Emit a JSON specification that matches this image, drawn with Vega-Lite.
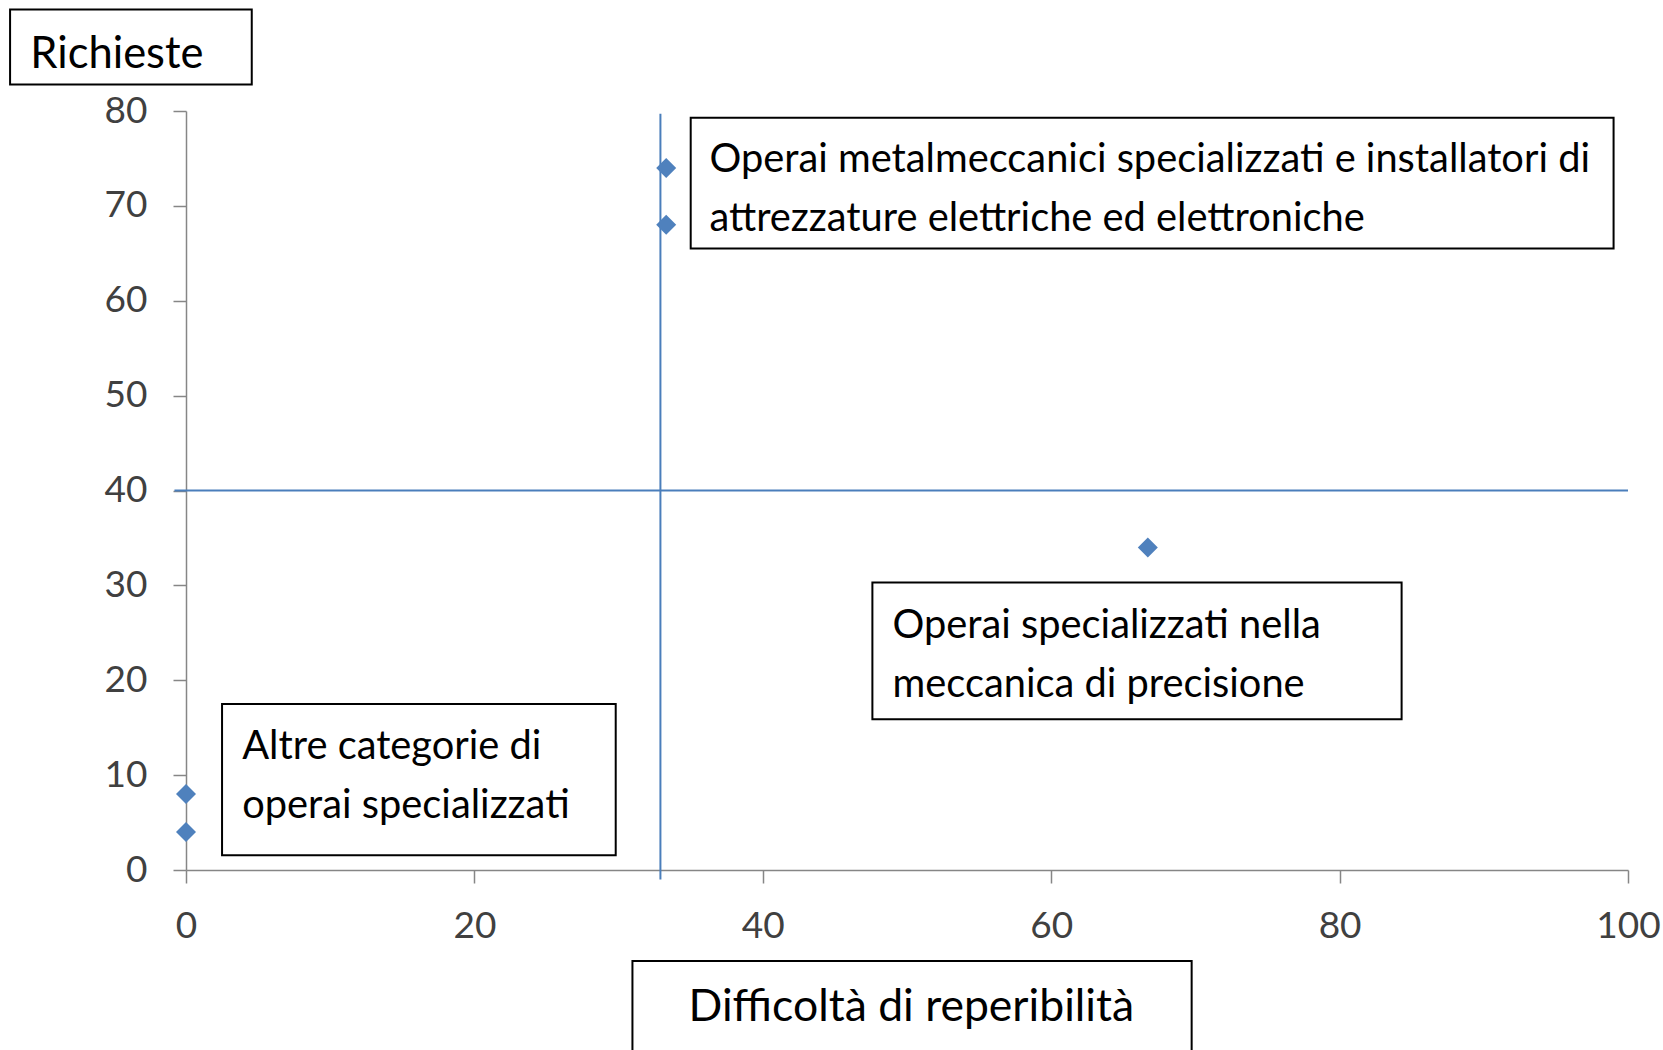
{
  "$schema": "https://vega.github.io/schema/vega-lite/v6.json",
  "width": 1442,
  "height": 759,
  "autosize": {"type": "none"},
  "padding": {"left": 186, "top": 111, "right": 35, "bottom": 180},
  "background": "white",
  "config": {"view": {"stroke": null}, "font": "Lato"},
  "datasets": {
    "points": [
      {"difficolta": 0, "richieste": 8},
      {"difficolta": 0, "richieste": 4},
      {"difficolta": 33.3, "richieste": 74},
      {"difficolta": 33.3, "richieste": 68},
      {"difficolta": 66.7, "richieste": 34}
    ],
    "vlines": [{"x": 32.9, "y1": -1, "y2": 79.7}],
    "hlines": [{"y": 40, "x1": -0.8, "x2": 100}],
    "boxes": [
      {"x1": -12.2, "x2": 4.56, "y1": 82.8, "y2": 90.7},
      {"x1": 35.0, "x2": 99.0, "y1": 65.5, "y2": 79.3},
      {"x1": 47.6, "x2": 84.3, "y1": 15.9, "y2": 30.3},
      {"x1": 2.5, "x2": 29.8, "y1": 1.56, "y2": 17.5},
      {"x1": 30.96, "x2": 69.74, "y1": -25, "y2": -9.6}
    ],
    "labels": [
      {"x": 36.3, "y": 74.8, "label": "Operai metalmeccanici specializzati e installatori di"},
      {"x": 36.3, "y": 68.6, "label": "attrezzature elettriche ed elettroniche"},
      {"x": 49.0, "y": 25.7, "label": "Operai specializzati nella"},
      {"x": 49.0, "y": 19.45, "label": "meccanica di precisione"},
      {"x": 3.9, "y": 12.95, "label": "Altre categorie di"},
      {"x": 3.9, "y": 6.7, "label": "operai specializzati"}
    ],
    "ytitle": [
      {"x": -10.8, "y": 85.9, "label": "Richieste"}
    ],
    "titles": [
      {"x": 50.3, "y": -14.5, "label": "Difficoltà di reperibilità"}
    ]
  },
  "layer": [
    {
      "data": {"name": "hlines"},
      "mark": {"type": "rule", "color": "#4a7ebb", "strokeWidth": 2, "clip": false},
      "encoding": {
        "y": {"field": "y", "type": "quantitative", "scale": {"domain": [0, 80], "nice": false, "zero": false},
          "axis": {"values": [0, 10, 20, 30, 40, 50, 60, 70, 80], "title": null, "grid": false,
            "domainColor": "#868686", "domainWidth": 1.5, "tickColor": "#868686", "tickWidth": 1.5, "tickSize": 13,
            "labelFont": "Lato", "labelFontSize": 37, "labelColor": "#404040", "labelPadding": 26, "labelBaseline": "middle"}},
        "x": {"field": "x1", "type": "quantitative", "scale": {"domain": [0, 100], "nice": false, "zero": false},
          "axis": {"values": [0, 20, 40, 60, 80, 100], "title": null, "grid": false, "labelFlush": false, "labelOverlap": false,
            "domainColor": "#868686", "domainWidth": 1.5, "tickColor": "#868686", "tickWidth": 1.5, "tickSize": 13,
            "labelFont": "Lato", "labelFontSize": 37, "labelColor": "#404040", "labelPadding": 25}},
        "x2": {"field": "x2"}
      }
    },
    {
      "data": {"name": "vlines"},
      "mark": {"type": "rule", "color": "#4a7ebb", "strokeWidth": 2, "clip": false},
      "encoding": {
        "x": {"field": "x", "type": "quantitative"},
        "y": {"field": "y1", "type": "quantitative"},
        "y2": {"field": "y2"}
      }
    },
    {
      "data": {"name": "points"},
      "mark": {"type": "point", "shape": "diamond", "filled": true, "color": "#4f81bd", "opacity": 1, "size": 400, "clip": false},
      "encoding": {
        "x": {"field": "difficolta", "type": "quantitative"},
        "y": {"field": "richieste", "type": "quantitative"}
      }
    },
    {
      "data": {"name": "boxes"},
      "mark": {"type": "rect", "fill": "white", "stroke": "black", "strokeWidth": 2, "clip": false},
      "encoding": {
        "x": {"field": "x1", "type": "quantitative"},
        "x2": {"field": "x2"},
        "y": {"field": "y1", "type": "quantitative"},
        "y2": {"field": "y2"}
      }
    },
    {
      "data": {"name": "labels"},
      "mark": {"type": "text", "align": "left", "baseline": "middle", "font": "Lato", "fontSize": 39.8, "color": "black", "clip": false},
      "encoding": {
        "x": {"field": "x", "type": "quantitative"},
        "y": {"field": "y", "type": "quantitative"},
        "text": {"field": "label"}
      }
    },
    {
      "data": {"name": "ytitle"},
      "mark": {"type": "text", "align": "left", "baseline": "middle", "font": "Lato", "fontSize": 43.5, "color": "black", "clip": false},
      "encoding": {
        "x": {"field": "x", "type": "quantitative"},
        "y": {"field": "y", "type": "quantitative"},
        "text": {"field": "label"}
      }
    },
    {
      "data": {"name": "titles"},
      "mark": {"type": "text", "align": "center", "baseline": "middle", "font": "Lato", "fontSize": 44.5, "color": "black", "clip": false},
      "encoding": {
        "x": {"field": "x", "type": "quantitative"},
        "y": {"field": "y", "type": "quantitative"},
        "text": {"field": "label"}
      }
    }
  ]
}
